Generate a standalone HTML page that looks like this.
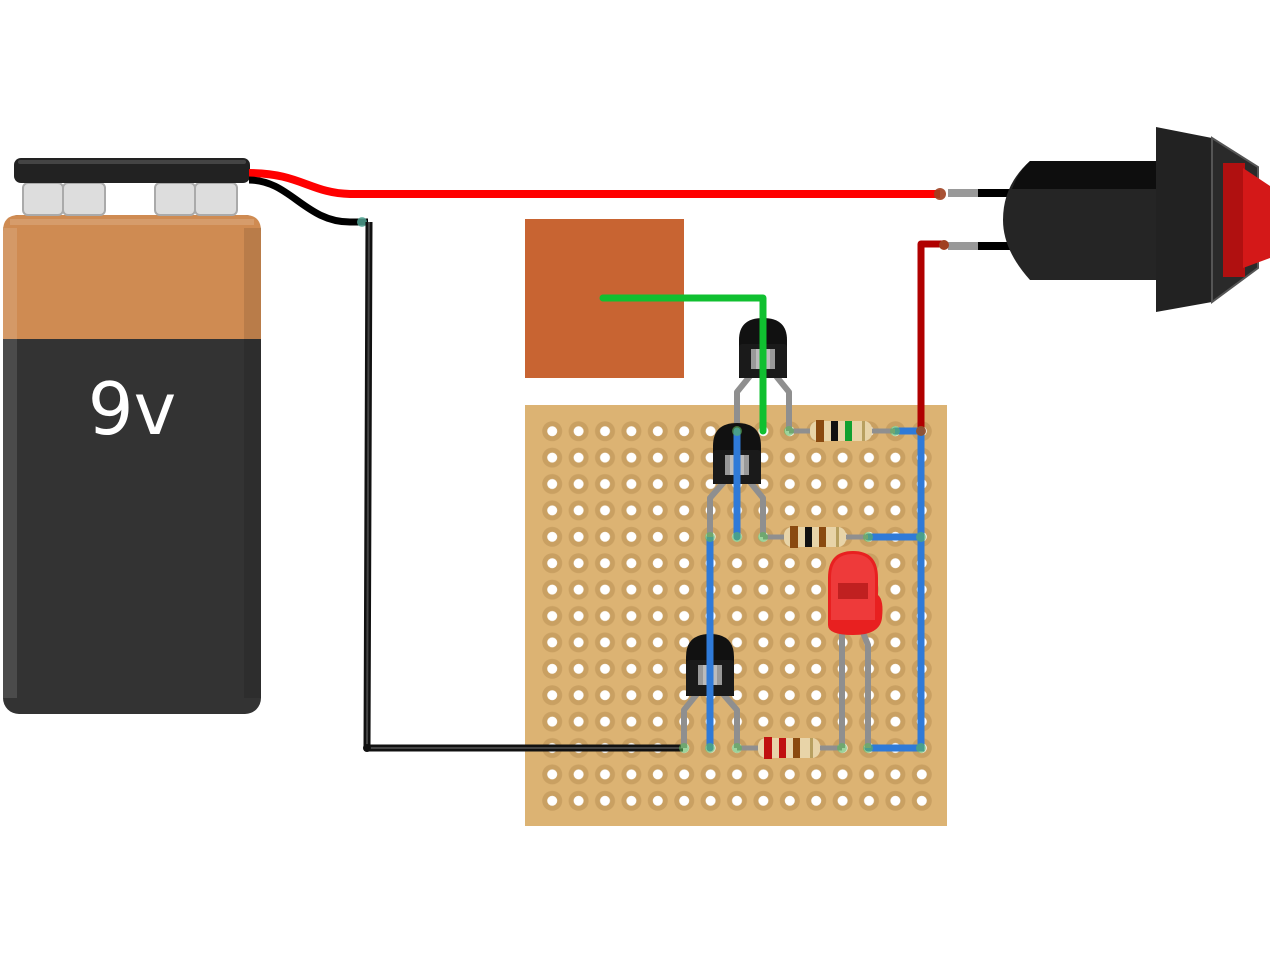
<!DOCTYPE html>
<html><head><meta charset="utf-8"><style>html,body{margin:0;padding:0;background:#fff}svg{display:block}</style></head>
<body>
<svg width="1272" height="954" viewBox="0 0 1272 954" xmlns="http://www.w3.org/2000/svg">
<defs>
<pattern id="holes" x="539" y="418" width="26.4" height="26.4" patternUnits="userSpaceOnUse">
<circle cx="13.2" cy="13.2" r="10" fill="#c9a062"/>
<circle cx="13.2" cy="13.2" r="5" fill="#fff"/>
</pattern>
</defs>
<!-- battery -->
<rect x="3" y="215" width="258" height="499" rx="16" fill="#333"/>
<path d="M3 339 V231 Q3 215 19 215 H245 Q261 215 261 231 V339 Z" fill="#cf8b52"/>
<rect x="3" y="228" width="14" height="470" fill="#fff" opacity="0.12"/>
<rect x="244" y="228" width="17" height="470" fill="#000" opacity="0.1"/>
<rect x="10" y="219" width="244" height="6" fill="#fff" opacity="0.15"/>
<g fill="#ddd" stroke="#aaa" stroke-width="2">
<rect x="23" y="183" width="40" height="32" rx="5"/><rect x="63" y="183" width="42" height="32" rx="5"/>
<rect x="155" y="183" width="40" height="32" rx="5"/><rect x="195" y="183" width="42" height="32" rx="5"/>
</g>
<rect x="14" y="158" width="236" height="25" rx="7" fill="#222"/>
<rect x="18" y="160" width="228" height="4" rx="2" fill="#444"/>
<text x="132" y="434" text-anchor="middle" font-family="DejaVu Sans, Liberation Sans, sans-serif" font-size="72" fill="#fff">9v</text>
<!-- wires from battery -->
<path d="M249 173 C300 173 310 193 350 194 H940" stroke="#ff0000" stroke-width="8" fill="none"/>
<path d="M249 180 C290 180 305 222 350 222 H368" stroke="#000" stroke-width="7" fill="none"/>
<circle cx="362" cy="222" r="5" fill="#5a9" opacity="0.8"/>
<!-- orange pad -->
<rect x="525" y="219" width="159" height="159" fill="#c86432"/>
<!-- board -->
<rect x="525" y="405" width="422" height="421" fill="#dcb373"/>
<rect x="539" y="418" width="396" height="396" fill="url(#holes)"/>
<!-- black wire -->
<path d="M369 222 L367 748 H683" stroke="#111" stroke-width="7" fill="none" stroke-linejoin="round"/>
<path d="M369 222 L367 748 H683" stroke="#444" stroke-width="2" fill="none"/>
<!-- switch -->
<rect x="948" y="189" width="30" height="8" fill="#999"/><rect x="978" y="189" width="32" height="8" fill="#000"/>
<rect x="948" y="242" width="30" height="8" fill="#999"/><rect x="978" y="242" width="32" height="8" fill="#000"/>
<path d="M1030 161 H1157 V280 H1030 Q1003 250 1003 220 Q1003 185 1030 161 Z" fill="#252525"/>
<path d="M1030 161 H1157 V189 H1012 Q1018 172 1030 161 Z" fill="#0e0e0e"/>
<polygon points="1156,127 1212,138 1212,302 1156,312" fill="#222"/>
<polygon points="1212,138 1258,167 1258,268 1212,302" fill="#2a2a2a" stroke="#555" stroke-width="2"/>
<rect x="1223" y="163" width="22" height="114" fill="#b01010"/>
<polygon points="1243,168 1270,186 1270,258 1243,268" fill="#d41818"/>
<circle cx="940" cy="194" r="6" fill="#a04020" opacity="0.9"/>
<!-- red wire -->
<path d="M921 431 V244 H946" stroke="#b00000" stroke-width="7" fill="none" stroke-linejoin="round"/>
<circle cx="944" cy="245" r="5" fill="#a04020"/>
<!-- blue wires -->
<g stroke="#2f7ad8" stroke-width="7" fill="none" stroke-linecap="round">
<path d="M895 431 H921 V748 H868"/><path d="M868 537 H921"/><path d="M710 537 V748"/>
</g>
<!-- transistor legs -->
<g stroke="#8f8f8f" stroke-width="6" fill="none" stroke-linejoin="round">
<path d="M750 376 L737 392 V431"/><path d="M776 376 L789 392 V431"/>
<path d="M724 482 L710 498 V537"/><path d="M750 482 L763 498 V537"/>
<path d="M697 694 L684 710 V748"/><path d="M723 694 L737 710 V748"/>
<path d="M842 630 V748"/><path d="M862 630 L868 645 V748"/>
</g>
<!-- transistors -->
<g>
<path d="M739 378 V340 Q739 318 763 318 Q787 318 787 340 V378 Z" fill="#111"/><rect x="739" y="344" width="48" height="34" rx="3" fill="#1a1a1a"/><rect x="751" y="349" width="24" height="20" fill="#999"/><rect x="756" y="349" width="14" height="20" fill="#bbb"/>
<path d="M713 484 V446 Q713 423 737 423 Q761 423 761 446 V484 Z" fill="#111"/><rect x="713" y="450" width="48" height="34" rx="3" fill="#1a1a1a"/><rect x="725" y="455" width="24" height="20" fill="#999"/><rect x="730" y="455" width="14" height="20" fill="#bbb"/>
<path d="M686 696 V657 Q686 634 710 634 Q734 634 734 657 V696 Z" fill="#111"/><rect x="686" y="660" width="48" height="36" rx="3" fill="#1a1a1a"/><rect x="698" y="665" width="24" height="20" fill="#999"/><rect x="703" y="665" width="14" height="20" fill="#bbb"/>
</g>
<!-- blue wire over T2 and T3 -->
<g stroke="#2f7ad8" stroke-width="7" fill="none" stroke-linecap="round"><path d="M737 431 V537"/><path d="M710 600 V748"/></g>
<!-- green wire -->
<path d="M603 298 H763 V431" stroke="#10c030" stroke-width="7" fill="none" stroke-linejoin="round" stroke-linecap="round"/>
<!-- resistors -->
<g stroke="#8f8f8f" stroke-width="5"><path d="M789 431 H895"/><path d="M763 537 H868"/><path d="M737 748 H842"/></g>
<g>
<rect x="810" y="421" width="62" height="20" rx="8" fill="#e8d4a8"/><rect x="816" y="420" width="8" height="22" fill="#8a4a10"/><rect x="831" y="421" width="7" height="20" fill="#111"/><rect x="845" y="421" width="7" height="20" fill="#10a030"/><rect x="862" y="421" width="3" height="20" fill="#b8a060"/>
<rect x="784" y="527" width="62" height="20" rx="8" fill="#e8d4a8"/><rect x="790" y="526" width="8" height="22" fill="#8a4a10"/><rect x="805" y="527" width="7" height="20" fill="#111"/><rect x="819" y="527" width="7" height="20" fill="#8a4a10"/><rect x="836" y="527" width="3" height="20" fill="#b8a060"/>
<rect x="758" y="738" width="62" height="20" rx="8" fill="#e8d4a8"/><rect x="764" y="737" width="8" height="22" fill="#c01010"/><rect x="779" y="738" width="7" height="20" fill="#c01010"/><rect x="793" y="738" width="7" height="20" fill="#8a4a10"/><rect x="810" y="738" width="3" height="20" fill="#b8a060"/>
</g>
<!-- LED -->
<path d="M828 625 V578 Q828 551 853 551 Q878 551 878 578 V595 Q884 600 882 618 Q880 635 853 635 Q828 635 828 625 Z" fill="#e82020"/>
<path d="M831 620 V578 Q831 554 853 554 Q875 554 875 578 V620 Z" fill="#ee3a3a"/>
<rect x="838" y="583" width="30" height="16" fill="#c02020"/>
<!-- joints -->
<g fill="#5cb85c" opacity="0.6">
<circle cx="737" cy="431" r="5"/><circle cx="789" cy="431" r="5"/><circle cx="895" cy="431" r="5"/><circle cx="921" cy="431" r="5"/>
<circle cx="710" cy="537" r="5"/><circle cx="737" cy="537" r="5"/><circle cx="763" cy="537" r="5"/><circle cx="868" cy="537" r="5"/><circle cx="921" cy="537" r="5"/>
<circle cx="684" cy="748" r="5"/><circle cx="710" cy="748" r="5"/><circle cx="737" cy="748" r="5"/><circle cx="842" cy="748" r="5"/><circle cx="868" cy="748" r="5"/><circle cx="921" cy="748" r="5"/>
</g>
<circle cx="921" cy="431" r="5" fill="#a04020" opacity="0.8"/>
<circle cx="367" cy="748" r="4" fill="#111"/>
</svg>
</body></html>
